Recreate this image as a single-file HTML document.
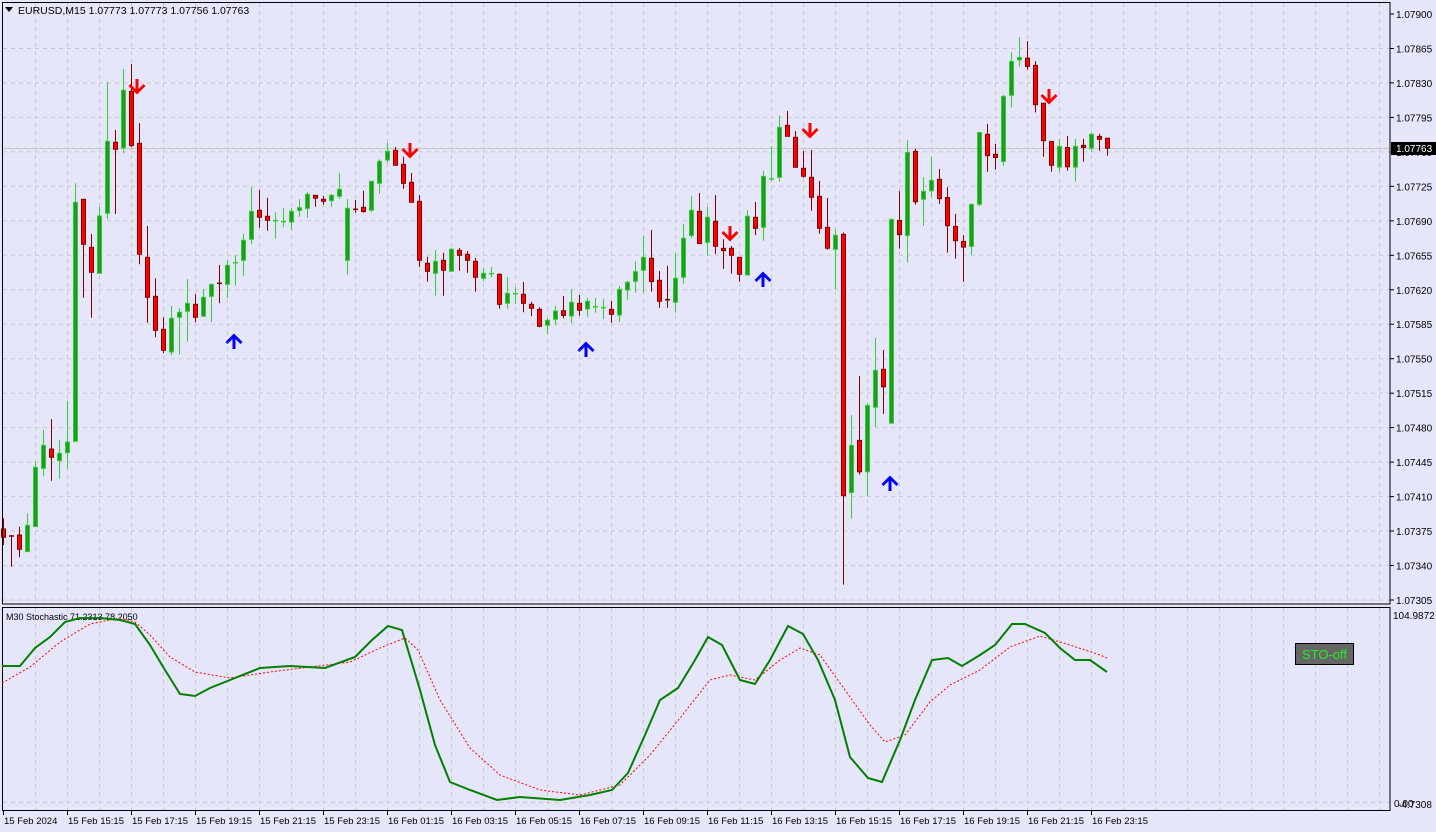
<!DOCTYPE html>
<html><head><meta charset="utf-8">
<style>
html,body{margin:0;padding:0;background:#E6E6FA;}
svg{display:block;font-family:"Liberation Sans",sans-serif;}
</style></head>
<body>
<svg id="s" width="1436" height="832" xmlns="http://www.w3.org/2000/svg"></svg>
<script>
const S=document.getElementById('s');
let h='';
h+='<rect width="1436" height="832" fill="#E6E6FA"/>';
for(let x=35.5;x<1390;x+=32){h+=`<line x1="${x}" y1="3" x2="${x}" y2="603" stroke="#c8c8c8" stroke-dasharray="4,4"/>`;h+=`<line x1="${x}" y1="608" x2="${x}" y2="810" stroke="#c8c8c8" stroke-dasharray="4,4"/>`;}
const P0=14,ST=34.47;
for(let i=0;i<18;i++){const y=P0+i*ST;const p=(1.07900-i*0.00035).toFixed(5);
 if(i>0) h+=`<line x1="3" y1="${y.toFixed(1)}" x2="1390" y2="${y.toFixed(1)}" stroke="#c8c8c8" stroke-dasharray="4,4"/>`;
 h+=`<line x1="1390" y1="${y.toFixed(1)}" x2="1394" y2="${y.toFixed(1)}" stroke="#000"/>`;
 h+=`<text x="1396" y="${(y+4).toFixed(1)}" font-size="10" fill="#000">${p}</text>`;}
h+='<line x1="3" y1="802.5" x2="1390" y2="802.5" stroke="#c8c8c8" stroke-dasharray="4,4"/>';
h+='<line x1="3" y1="148.5" x2="1390" y2="148.5" stroke="#c8c8c8"/>';
const R=[
[0,60,3,[[10,'r',1407,1432,1375,1455],[34,'r',1428,1428,1425,1520],[58,'r',1425,1468,1400,1492],[82,'g',1475,1396,1360,1475],[106,'g',1400,1222,1205,1400],[130,'g',1225,1156,1110,1248],[154,'r',1167,1192,1078,1262],[178,'g',1202,1180,1140,1256],[202,'g',1178,1146,1022,1226],[226,'g',1144,427,370,1144],[250,'r',418,553,418,713],[274,'r',562,637,522,773],[298,'g',640,468,440,640],[322,'g',460,244,66,478],[346,'r',247,268,210,462],[370,'g',264,91,27,280],[394,'r',94,257,12,262],[418,'r',250,583,190,613],[442,'r',592,712,498,788],[466,'r',709,811,655,832],[490,'r',808,871,772,880],[514,'g',876,775,738,886],[538,'g',772,757,745,883],[562,'g',754,730,657,845],[586,'r',733,772,703,787],[610,'g',769,712,687,769],[634,'g',709,673,673,785],[658,'r',670,670,615,730],[682,'g',673,616,600,713],[706,'g',608,608,585,677],[730,'g',601,541,521,647],[754,'g',538,454,380,553],[778,'r',451,472,390,503],[802,'r',469,481,413,512],[826,'g',482,482,457,536]]],
[280,120,3,[[10,'g',305,305,265,322],[34,'g',306,274,265,330],[58,'g',271,263,237,290],[82,'g',265,223,216,293],[106,'r',226,235,226,260],[130,'r',238,244,228,254],[154,'g',242,226,222,261],[178,'g',229,208,158,237],[202,'g',421,265,237,464],[226,'r',268,268,240,278],[250,'r',262,275,212,278],[274,'g',271,184,184,275],[298,'g',190,124,118,221],[322,'g',120,94,68,128],[346,'r',91,136,81,136],[370,'r',133,190,110,206],[394,'r',187,247,159,247],[418,'r',244,421,225,440],[442,'r',430,454,410,485],[466,'g',460,424,390,527],[490,'r',421,451,398,527],[514,'g',454,388,384,454],[538,'r',391,406,384,452],[562,'r',403,421,393,458],[586,'r',424,472,414,515],[610,'g',475,460,444,484],[634,'g',461,461,441,472],[658,'r',463,553,460,566],[682,'g',550,520,471,566],[706,'g',521,521,501,551],[730,'r',523,550,486,577],[754,'r',553,565,545,589],[778,'r',568,619,562,622],[802,'g',616,601,594,643],[826,'g',598,573,558,616]]],
[560,100,3,[[10,'r',632,646,588,655],[34,'g',648,607,568,670],[58,'r',610,631,585,647],[82,'g',627,604,593,650],[106,'g',620,620,594,638],[130,'g',623,623,598,657],[154,'r',628,643,603,668],[178,'g',645,568,558,665],[202,'g',570,547,543,599],[226,'g',544,515,484,578],[250,'g',511,472,407,578],[274,'r',475,545,390,575],[298,'r',541,604,513,623],[322,'r',599,599,497,623],[346,'g',607,535,459,638],[370,'g',532,415,372,551],[394,'g',407,331,288,415],[418,'r',334,431,279,431],[442,'g',427,352,320,467],[466,'r',364,439,285,462],[490,'r',445,452,418,506],[514,'r',445,466,438,521],[538,'r',472,523,472,545],[562,'g',525,349,330,525],[586,'r',352,385,306,405],[610,'g',382,229,212,422],[634,'g',237,237,138,243],[658,'g',232,82,47,245],[682,'r',76,109,33,109],[706,'r',112,202,93,202],[730,'r',205,229,152,233],[754,'r',232,292,150,332],[778,'r',289,385,243,401],[802,'r',382,445,294,449],[826,'g',448,406,387,568]]],
[830,30,2.8,[[40,'r',572,1304,567,1553],[64,'g',1295,1163,1078,1368],[88,'r',1149,1237,969,1245],[112,'g',1237,1051,1045,1305],[136,'g',1056,953,862,1112],[160,'r',950,999,896,1075],[184,'g',1101,530,530,1101],[208,'r',533,573,451,612],[232,'g',575,343,308,651],[256,'r',340,481,333,489],[280,'g',474,452,412,548],[304,'g',450,421,356,469],[328,'r',418,472,389,487],[352,'r',469,548,440,623],[376,'r',550,590,515,640],[400,'r',592,608,574,705],[424,'g',606,488,488,630],[448,'g',488,287,285,493],[472,'r',292,352,263,397],[496,'r',348,357,319,391],[520,'g',368,186,182,380],[544,'g',183,88,62,217],[568,'g',84,77,20,103],[592,'r',79,102,31,111],[616,'r',99,209,87,231],[640,'r',205,310,205,355],[664,'r',312,379,312,397],[688,'g',384,326,305,397],[712,'r',329,383,297,394],[736,'g',384,326,305,425],[760,'r',323,329,305,369],[784,'g',331,292,288,341],[808,'r',298,306,291,338],[832,'r',303,331,303,352]]]
];
for(const [ox,oy,sy,cs] of R){for(const c of cs){
 const x=Math.round(ox+c[0]/3)+0.5;const f=v=>oy+v/sy;
 const o=f(c[2]),cl=f(c[3]),hi=f(c[4]),lo=Math.min(f(c[5]),604);
 const g=c[1]=='g';const wick=g?'#32CD32':'#800000';
 h+=`<line x1="${x}" y1="${hi.toFixed(1)}" x2="${x}" y2="${lo.toFixed(1)}" stroke="${wick}"/>`;
 const top=Math.min(o,cl),bot=Math.max(o,cl);
 if(bot-top<1.5){h+=`<line x1="${x-2.5}" y1="${top.toFixed(1)}" x2="${x+2.5}" y2="${top.toFixed(1)}" stroke="${wick}" stroke-width="1.5"/>`;}
 else h+=`<rect x="${x-2}" y="${top.toFixed(1)}" width="4" height="${(bot-top).toFixed(1)}" fill="${g?'#229922':'#FF0000'}" stroke="${g?'#32CD32':'#800000'}"/>`;
}}
function down(x,y){return `<path d="M${x-1.5},${y-9}h3v10l5,-5 2,2 -8.5,8.5 -8.5,-8.5 2,-2 5,5z" fill="#FF0000"/>`;}
function up(x,y){return `<path d="M${x-1.5},${y+9}h3v-10l5,5 2,-2 -8.5,-8.5 -8.5,8.5 2,2 5,-5z" fill="#0000FF"/>`;}
[[137,88],[410,152],[730,235],[810,132],[1049,98]].forEach(a=>h+=down(a[0],a[1]));
[[234,340],[586,348],[763,278],[890,482]].forEach(a=>h+=up(a[0],a[1]));
h+='<rect x="2.5" y="2.5" width="1387.5" height="601.5" fill="none" stroke="#000"/>';
h+='<rect x="2.5" y="607.5" width="1387.5" height="203" fill="none" stroke="#000"/>';
h+='<rect x="1391" y="142" width="45" height="13" fill="#000"/><text x="1396" y="152" font-size="10" fill="#fff">1.07763</text>';
h+='<path d="M5,7h8l-4,5z" fill="#000"/><text x="18" y="14" font-size="10.5" fill="#000">EURUSD,M15  1.07773 1.07773 1.07756 1.07763</text>';
h+='<text x="6" y="620" font-size="9" fill="#000">M30 Stochastic 71.2313 78.2050</text>';
h+='<text x="1393" y="619" font-size="10" fill="#000">104.9872</text>';
h+='<text x="1394" y="807" font-size="10" fill="#000">0.00</text><text x="1398" y="808" font-size="10" fill="#000">-4.7308</text>';
const G=[[2,666],[20,666],[35,648],[50,637],[65,622],[80,618],[100,618],[120,620],[135,624],[150,645],[165,670],[180,694],[195,696],[210,688],[230,680],[260,668],[290,666],[325,668],[355,657],[372,640],[388,626],[402,630],[420,690],[435,745],[450,782],[470,790],[497,800],[520,797],[560,800],[590,795],[612,790],[628,773],[645,735],[660,700],[678,688],[695,660],[708,637],[722,645],[740,680],[755,684],[770,660],[788,626],[803,634],[818,660],[835,700],[850,757],[868,778],[882,782],[900,740],[915,700],[932,660],[948,658],[962,666],[980,655],[995,645],[1012,624],[1025,624],[1045,633],[1060,648],[1075,660],[1090,660],[1107,672]];
const Rd=[[2,683],[30,667],[60,642],[90,624],[120,618],[135,622],[150,635],[170,657],[195,672],[230,678],[270,672],[310,667],[350,662],[380,648],[405,638],[418,650],[440,700],[470,748],[500,775],[540,790],[580,795],[620,785],[650,755],[680,718],[710,680],[730,675],[755,680],[780,660],[800,648],[820,655],[845,690],[870,725],[885,742],[905,735],[930,702],[950,685],[980,670],[1010,647],[1040,636],[1070,645],[1100,655],[1107,658]];
h+=`<polyline points="${Rd.map(p=>p.join(',')).join(' ')}" fill="none" stroke="#FF0000" stroke-dasharray="2,2"/>`;
h+=`<polyline points="${G.map(p=>p.join(',')).join(' ')}" fill="none" stroke="#008000" stroke-width="2"/>`;
h+='<rect x="1295.5" y="643.5" width="58" height="21" fill="#666" stroke="#000"/><text x="1324.5" y="659" font-size="13" fill="#22EE22" text-anchor="middle">STO-off</text>';
const T=['15 Feb 2024','15 Feb 15:15','15 Feb 17:15','15 Feb 19:15','15 Feb 21:15','15 Feb 23:15','16 Feb 01:15','16 Feb 03:15','16 Feb 05:15','16 Feb 07:15','16 Feb 09:15','16 Feb 11:15','16 Feb 13:15','16 Feb 15:15','16 Feb 17:15','16 Feb 19:15','16 Feb 21:15','16 Feb 23:15'];
T.forEach((t,i)=>{const x=3+64*i;h+=`<line x1="${x+0.5}" y1="811" x2="${x+0.5}" y2="815" stroke="#000"/><text x="${x+1}" y="824" font-size="9.5" fill="#000">${t}</text>`;});
S.innerHTML=h;
</script>
</body></html>
